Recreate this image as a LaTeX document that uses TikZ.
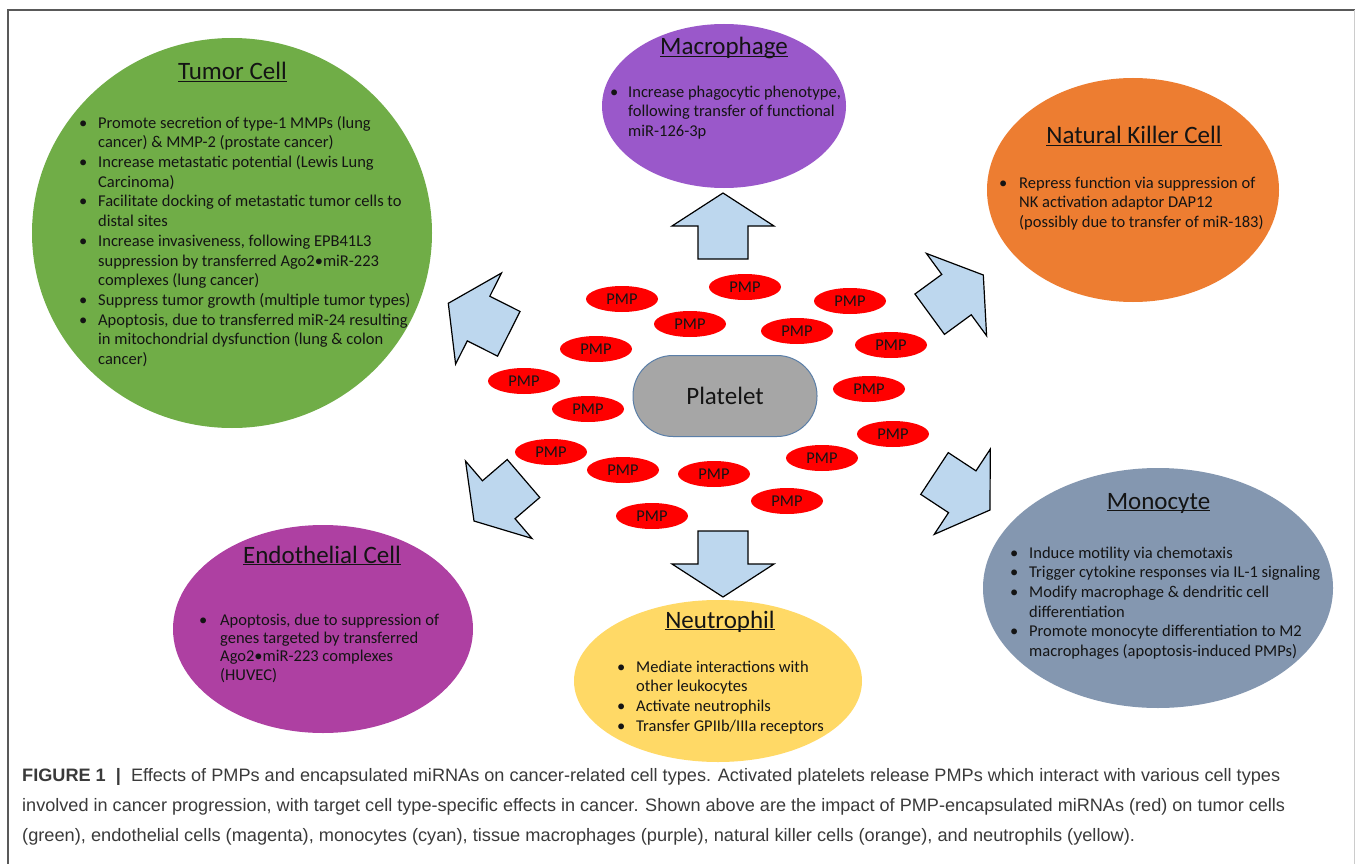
\documentclass[tikz,border=0pt]{standalone}
\usepackage{fontspec}
\usepackage{graphicx}
\setmainfont{Carlito}
\newfontfamily\capfont{Liberation Sans}
\usetikzlibrary{calc,shapes.geometric}

\definecolor{cgreen}{HTML}{70AD47}
\definecolor{cpurple}{HTML}{9A58CA}
\definecolor{corange}{HTML}{ED7D31}
\definecolor{cslate}{HTML}{8497B0}
\definecolor{cmagenta}{HTML}{AE40A2}
\definecolor{cyellow}{HTML}{FFD966}
\definecolor{cgray}{HTML}{A6A6A6}
\definecolor{cborder}{HTML}{5B7FA8}
\definecolor{carrow}{HTML}{BDD7EE}
\definecolor{ccap}{HTML}{3A3A3A}
\definecolor{cframe}{HTML}{595959}
\definecolor{ctext}{HTML}{141414}

\newcommand\ttl[1]{\underline{\raisebox{0pt}[\height][0pt]{#1}}}
\newcommand\blist[2]{\begin{tabular}{@{}p{#1}@{}l@{}}#2\end{tabular}}
\newcommand\blockarr[2]{%
  \coordinate (#1-m) at ($(#1)!0.5!(#2)$);
  \draw[blockarrow] ($(#1)!25pt!90:(#2)$) -- ($(#1-m)!25pt!90:(#2)$)
    -- ($(#1-m)!51pt!90:(#2)$) -- (#2) -- ($(#1-m)!51pt!-90:(#2)$)
    -- ($(#1-m)!25pt!-90:(#2)$) -- ($(#1)!25pt!-90:(#2)$) -- cycle;}

\tikzset{
  cell/.style={ellipse, inner sep=0pt, draw=none},
  celltitle/.style={anchor=base, inner sep=0pt, text=ctext, font=\fontsize{25}{29}\selectfont},
  celltext/.style={anchor=north west, inner sep=0pt, align=left, text=ctext, font=\fontsize{16.5}{19.7}\selectfont},
  pmp/.style={ellipse, fill=red, inner sep=0pt, minimum width=72pt, minimum height=26pt, text=ctext, font=\fontsize{16.5}{19}\selectfont},
  blockarrow/.style={fill=carrow, draw=black, line width=1.2pt, line join=miter},
  captext/.style={anchor=base west, inner sep=0pt, text=ccap, font=\capfont\fontsize{18}{22}\selectfont}
}

\begin{document}
\begin{tikzpicture}[x=1pt,y=-1pt]
\useasboundingbox (0,0) rectangle (1355,864);
\fill[white] (0,0) rectangle (1355,864);

% frame
\draw[cframe, line width=1.5pt] (8,864) -- (8,10) -- (1355,10);
\draw[black!20, line width=1pt] (1354,10) -- (1354,864);

% cells
\node[cell, fill=cgreen, minimum width=400pt, minimum height=390pt] (tumor) at (232,233) {};
\node[cell, fill=cpurple, minimum width=244pt, minimum height=164pt] (macro) at (724,106) {};
\node[cell, fill=corange, minimum width=292pt, minimum height=224pt] (nk) at (1133,190) {};
\node[cell, fill=cslate, minimum width=350pt, minimum height=240pt] (mono) at (1158,588) {};
\node[cell, fill=cmagenta, minimum width=300pt, minimum height=208pt] (endo) at (323,629) {};
\node[cell, fill=cyellow, minimum width=288pt, minimum height=162pt] (neutro) at (718,681) {};

% platelet
\node[draw=cborder, line width=1pt, fill=cgray, rounded corners=40pt, minimum width=184pt, minimum height=81pt, text=ctext, font=\fontsize{25}{29}\selectfont] (platelet) at (725,396) {Platelet};

% PMPs
\node[pmp] (p1) at (622,299) {PMP};
\node[pmp] (p2) at (745,287) {PMP};
\node[pmp] (p3) at (850,301) {PMP};
\node[pmp] (p4) at (690,324) {PMP};
\node[pmp] (p5) at (797,331) {PMP};
\node[pmp] (p6) at (891,345) {PMP};
\node[pmp] (p7) at (596,349) {PMP};
\node[pmp] (p8) at (524,381) {PMP};
\node[pmp] (p9) at (588,409) {PMP};
\node[pmp] (p10) at (869,389) {PMP};
\node[pmp] (p11) at (893,434) {PMP};
\node[pmp] (p12) at (551,452) {PMP};
\node[pmp] (p13) at (822,458) {PMP};
\node[pmp] (p14) at (623,470) {PMP};
\node[pmp] (p15) at (714,474) {PMP};
\node[pmp] (p16) at (787,501) {PMP};
\node[pmp] (p17) at (652,516) {PMP};

% block arrows
\coordinate (up) at (723,259);      \coordinate (upT) at (723,193);
\coordinate (dn) at (723,531);      \coordinate (dnT) at (723,597);
\coordinate (tl) at (508.8,333.8);  \coordinate (tlT) at (448.3,303.3);
\coordinate (tr) at (929.7,314.2);  \coordinate (trT) at (983.3,275);
\coordinate (br) at (934.5,473.5);  \coordinate (brT) at (990,510);
\coordinate (bl) at (523.5,478.5);  \coordinate (blT) at (474,521);
\blockarr{up}{upT}
\blockarr{dn}{dnT}
\blockarr{tl}{tlT}
\blockarr{tr}{trT}
\blockarr{br}{brT}
\blockarr{bl}{blT}

% titles
\node[celltitle] (tumorT) at (232.5,80) {\ttl{Tumor Cell}};
\node[celltitle] (macroT) at (724,55) {\ttl{Macrophage}};
\node[celltitle] (nkT) at (1134,144) {\ttl{Natural Killer Cell}};
\node[celltitle] (monoT) at (1158.5,509) {\ttl{Monocyte}};
\node[celltitle] (endoT) at (322,563) {\ttl{Endothelial Cell}};
\node[celltitle] (neutroT) at (720,628) {\ttl{Neutrophil}};

% texts
\node[celltext] (tumorX) at (79,114.2) {\blist{19pt}{%
\textbullet & Promote secretion of type-1 MMPs (lung\\
 & cancer) \& MMP-2 (prostate cancer)\\
\textbullet & Increase metastatic potential (Lewis Lung\\
 & Carcinoma)\\
\textbullet & Facilitate docking of metastatic tumor cells to\\
 & distal sites\\
\textbullet & Increase invasiveness, following EPB41L3\\
 & suppression by transferred Ago2\textbullet miR-223\\
 & complexes (lung cancer)\\
\textbullet & Suppress tumor growth (multiple tumor types)\\
\textbullet & Apoptosis, due to transferred miR-24 resulting\\
 & in mitochondrial dysfunction (lung \& colon\\
 & cancer)}};

\node[celltext] (macroX) at (610,83.2) {\blist{18pt}{%
\textbullet & Increase phagocytic phenotype,\\
 & following transfer of functional\\
 & miR-126-3p}};

\node[celltext] (nkX) at (999,174.2) {\blist{20pt}{%
\textbullet & Repress function via suppression of\\
 & NK activation adaptor DAP12\\
 & (possibly due to transfer of miR-183)}};

\node[celltext] (monoX) at (1010,544.2) {\blist{19pt}{%
\textbullet & Induce motility via chemotaxis\\
\textbullet & Trigger cytokine responses via IL-1 signaling\\
\textbullet & Modify macrophage \& dendritic cell\\
 & differentiation\\
\textbullet & Promote monocyte differentiation to M2\\
 & macrophages (apoptosis-induced PMPs)}};

\node[celltext, font=\fontsize{16.5}{18.3}\selectfont] (endoX) at (199,612.2) {\blist{21pt}{%
\textbullet & Apoptosis, due to suppression of\\
 & genes targeted by transferred\\
 & Ago2\textbullet miR-223 complexes\\
 & (HUVEC)}};

\node[celltext] (neutroX) at (617,658.2) {\blist{19pt}{%
\textbullet & Mediate interactions with\\
 & other leukocytes\\
\textbullet & Activate neutrophils\\
\textbullet & Transfer GPIIb/IIIa receptors}};

% caption
\node[captext] (cap1) at (22,781) {\resizebox{1258pt}{\height}{\textbf{FIGURE 1}\ \ \textbf{|}\ \ Effects of PMPs and encapsulated miRNAs on cancer-related cell types. Activated platelets release PMPs which interact with various cell types}};
\node[captext] (cap2) at (22,811) {\resizebox{1263pt}{\height}{involved in cancer progression, with target cell type-specific effects in cancer. Shown above are the impact of PMP-encapsulated miRNAs (red) on tumor cells}};
\node[captext] (cap3) at (22,841) {\resizebox{1113pt}{\height}{(green), endothelial cells (magenta), monocytes (cyan), tissue macrophages (purple), natural killer cells (orange), and neutrophils (yellow).}};
\end{tikzpicture}
\end{document}
